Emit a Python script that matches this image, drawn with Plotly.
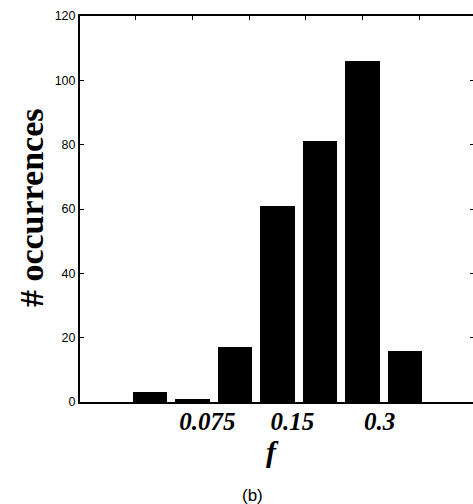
import plotly.graph_objects as go

# data
bins = [1, 2, 3, 4, 5, 6, 7]
counts = [3, 1, 17, 61, 81, 106, 16]
xtick_vals = [2.35, 4.35, 6.4]
xtick_text = ["0.075", "0.15", "0.3"]
ytick_vals = [0, 20, 40, 60, 80, 100, 120]
top_tick_vals = [0.67, 2.0, 3.33, 4.67, 6.0, 7.33]

xr = [-0.647, 8.6]
yr = [0, 120]

fig = go.Figure()
fig.add_trace(go.Bar(x=bins, y=counts, width=0.82,
                     marker=dict(color="black", line=dict(width=0)),
                     showlegend=False, hoverinfo="skip"))
# invisible trace to activate the mirror axes (top/right ticks)
fig.add_trace(go.Scatter(x=[bins[0]], y=[counts[0]], xaxis="x2", yaxis="y2",
                         mode="markers", marker=dict(opacity=0),
                         showlegend=False, hoverinfo="skip"))

fig.update_layout(
    width=473, height=504,
    margin=dict(l=80, r=0, t=16, b=102),
    paper_bgcolor="white", plot_bgcolor="white",
    bargap=0,
    xaxis=dict(range=xr, showgrid=False, zeroline=False,
               showline=True, linecolor="black", linewidth=2,
               ticks="", tickvals=xtick_vals,
               ticktext=["<b><i>%s</i></b>" % t for t in xtick_text],
               tickfont=dict(family="Liberation Serif", size=25, color="black"),
               ticklabelstandoff=-4),
    yaxis=dict(range=yr, showgrid=False, zeroline=False,
               showline=True, linecolor="black", linewidth=2,
               ticks="inside", ticklen=4, tickwidth=1, tickcolor="black",
               tickvals=ytick_vals,
               tickfont=dict(family="Liberation Sans", size=12.5, color="black")),
    xaxis2=dict(range=xr, overlaying="x", side="top", anchor="y",
                showgrid=False, zeroline=False,
                showline=True, linecolor="black", linewidth=2,
                ticks="inside", ticklen=4, tickwidth=1, tickcolor="black",
                tickvals=top_tick_vals, showticklabels=False),
    yaxis2=dict(range=yr, overlaying="y", side="right", anchor="x",
                showgrid=False, zeroline=False, showline=False,
                ticks="inside", ticklen=3, tickwidth=1, tickcolor="black",
                tickvals=ytick_vals[1:-1], showticklabels=False),
    annotations=[
        dict(text="<b># occurrences</b>", xref="paper", yref="paper",
             x=-0.1247, y=0.505, xanchor="center", yanchor="middle",
             textangle=-90, showarrow=False,
             font=dict(family="Liberation Serif", size=34, color="black")),
        dict(text="<b><i>f</i></b>", xref="paper", yref="paper",
             x=0.49, y=-0.127, xanchor="center", yanchor="middle",
             showarrow=False,
             font=dict(family="Liberation Serif", size=30, color="black")),
        dict(text="(b)", xref="paper", yref="paper",
             x=0.438, y=-0.2435, xanchor="center", yanchor="middle",
             showarrow=False,
             font=dict(family="Liberation Sans", size=17, color="black")),
    ],
)

fig.write_html(
    "out.html",
    config={"displayModeBar": False},
    post_script="document.body.style.margin='0';document.body.style.overflow='hidden';",
)
